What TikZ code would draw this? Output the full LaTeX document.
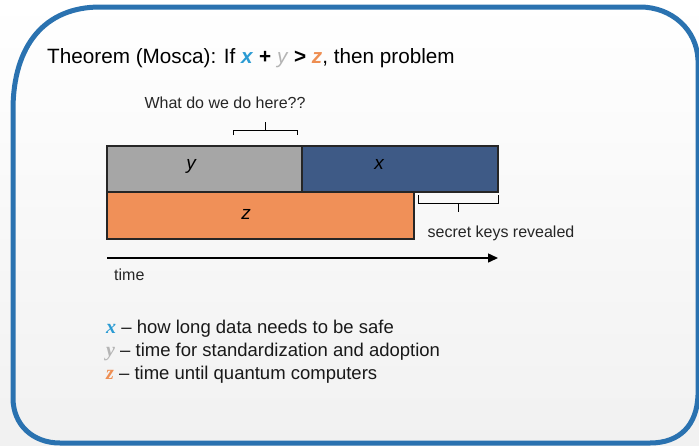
\documentclass[tikz,border=0pt]{standalone}
\usepackage{fontspec}
\setmainfont{Liberation Sans}
\newfontfamily\serifvar{Liberation Serif}
\usetikzlibrary{arrows.meta}
\definecolor{framebl}{HTML}{2A72B0}
\definecolor{barg}{HTML}{A6A6A6}
\definecolor{barb}{HTML}{3E5A86}
\definecolor{baro}{HTML}{F09058}
\definecolor{xcol}{HTML}{2B9BD3}
\definecolor{ycol}{HTML}{B4B4B4}
\definecolor{zcol}{HTML}{EE8E52}
\definecolor{bgtop}{HTML}{FFFFFF}
\definecolor{bgbot}{HTML}{F1F1F1}
\tikzset{
  bar/.style={draw=black!85, line width=1.2pt},
  barlabel/.style={font=\fontsize{19}{22}\selectfont\itshape, inner sep=0pt},
  brace/.style={draw=black, line width=1pt},
  smalltxt/.style={font=\fontsize{16}{19}\selectfont, inner sep=0pt, text=black!85},
  legend/.style={font=\fontsize{18.5}{22}\selectfont, inner sep=0pt, anchor=west, text=black!90}
}
\begin{document}
\begin{tikzpicture}[x=1pt,y=-1pt]
\useasboundingbox (0,0) rectangle (699,445);
\shade[top color=bgtop, bottom color=bgbot] (0,0) rectangle (699,445);
% frame
\draw[framebl, line width=5pt] (100,7) -- (640,7) .. controls (672,7) and (697,30) .. (698,60)
  -- (698,395) .. controls (697,425) and (680,443) .. (650,443)
  -- (60,443) .. controls (33,443) and (13,425) .. (13,398)
  -- (13,110) .. controls (13,45) and (45,7) .. (100,7);
% title
\node[anchor=base west, inner sep=0pt, font=\fontsize{20.7}{24}\selectfont] (title) at (47,63)
  {Theorem (Mosca): If \textcolor{xcol}{\textbf{\textit{x}}} \textbf{+} \textcolor{ycol}{\textit{y}} \textbf{>} \textcolor{zcol}{\textbf{\textit{z}}}, then problem};
% bars
\draw[bar, fill=barg] (107,146) rectangle (302,192);
\draw[bar, fill=barb] (302,146) rectangle (498,192);
\draw[bar, fill=baro] (107,192) rectangle (414,239);
\node[barlabel] (ylab) at (191,166) {y};
\node[barlabel] (xlab) at (379,164) {x};
\node[barlabel] (zlab) at (246,214) {z};
% top bracket
\node[smalltxt, anchor=base] (what) at (225,108) {What do we do here??};
\draw[brace] (233,135) -- (233,130) -- (297,130) -- (297,135);
\draw[brace] (265,130) -- (265,122);
% secret keys bracket
\draw[brace] (418,195) -- (418,203) -- (498,203) -- (498,195);
\draw[brace] (458,203) -- (458,212);
\node[smalltxt, anchor=base] (secret) at (501,237) {secret keys revealed};
% time arrow
\coordinate (t0) at (107,258);
\coordinate (t1) at (498,258);
\draw[line width=1.5pt, -{Triangle[length=10pt,width=9pt]}] (t0) -- (t1);
\node[smalltxt, anchor=base west] (time) at (114,280) {time};
% legend
\node[legend] (lx) at (106,329) {\textcolor{xcol}{\serifvar\bfseries\itshape\fontsize{20}{22}\selectfont x} -- how long data needs to be safe};
\node[legend] (ly) at (106,352) {\textcolor{ycol}{\serifvar\bfseries\itshape\fontsize{20}{22}\selectfont y} -- time for standardization and adoption};
\node[legend] (lz) at (106,375) {\textcolor{zcol}{\serifvar\bfseries\itshape\fontsize{20}{22}\selectfont z} -- time until quantum computers};
\end{tikzpicture}
\end{document}
